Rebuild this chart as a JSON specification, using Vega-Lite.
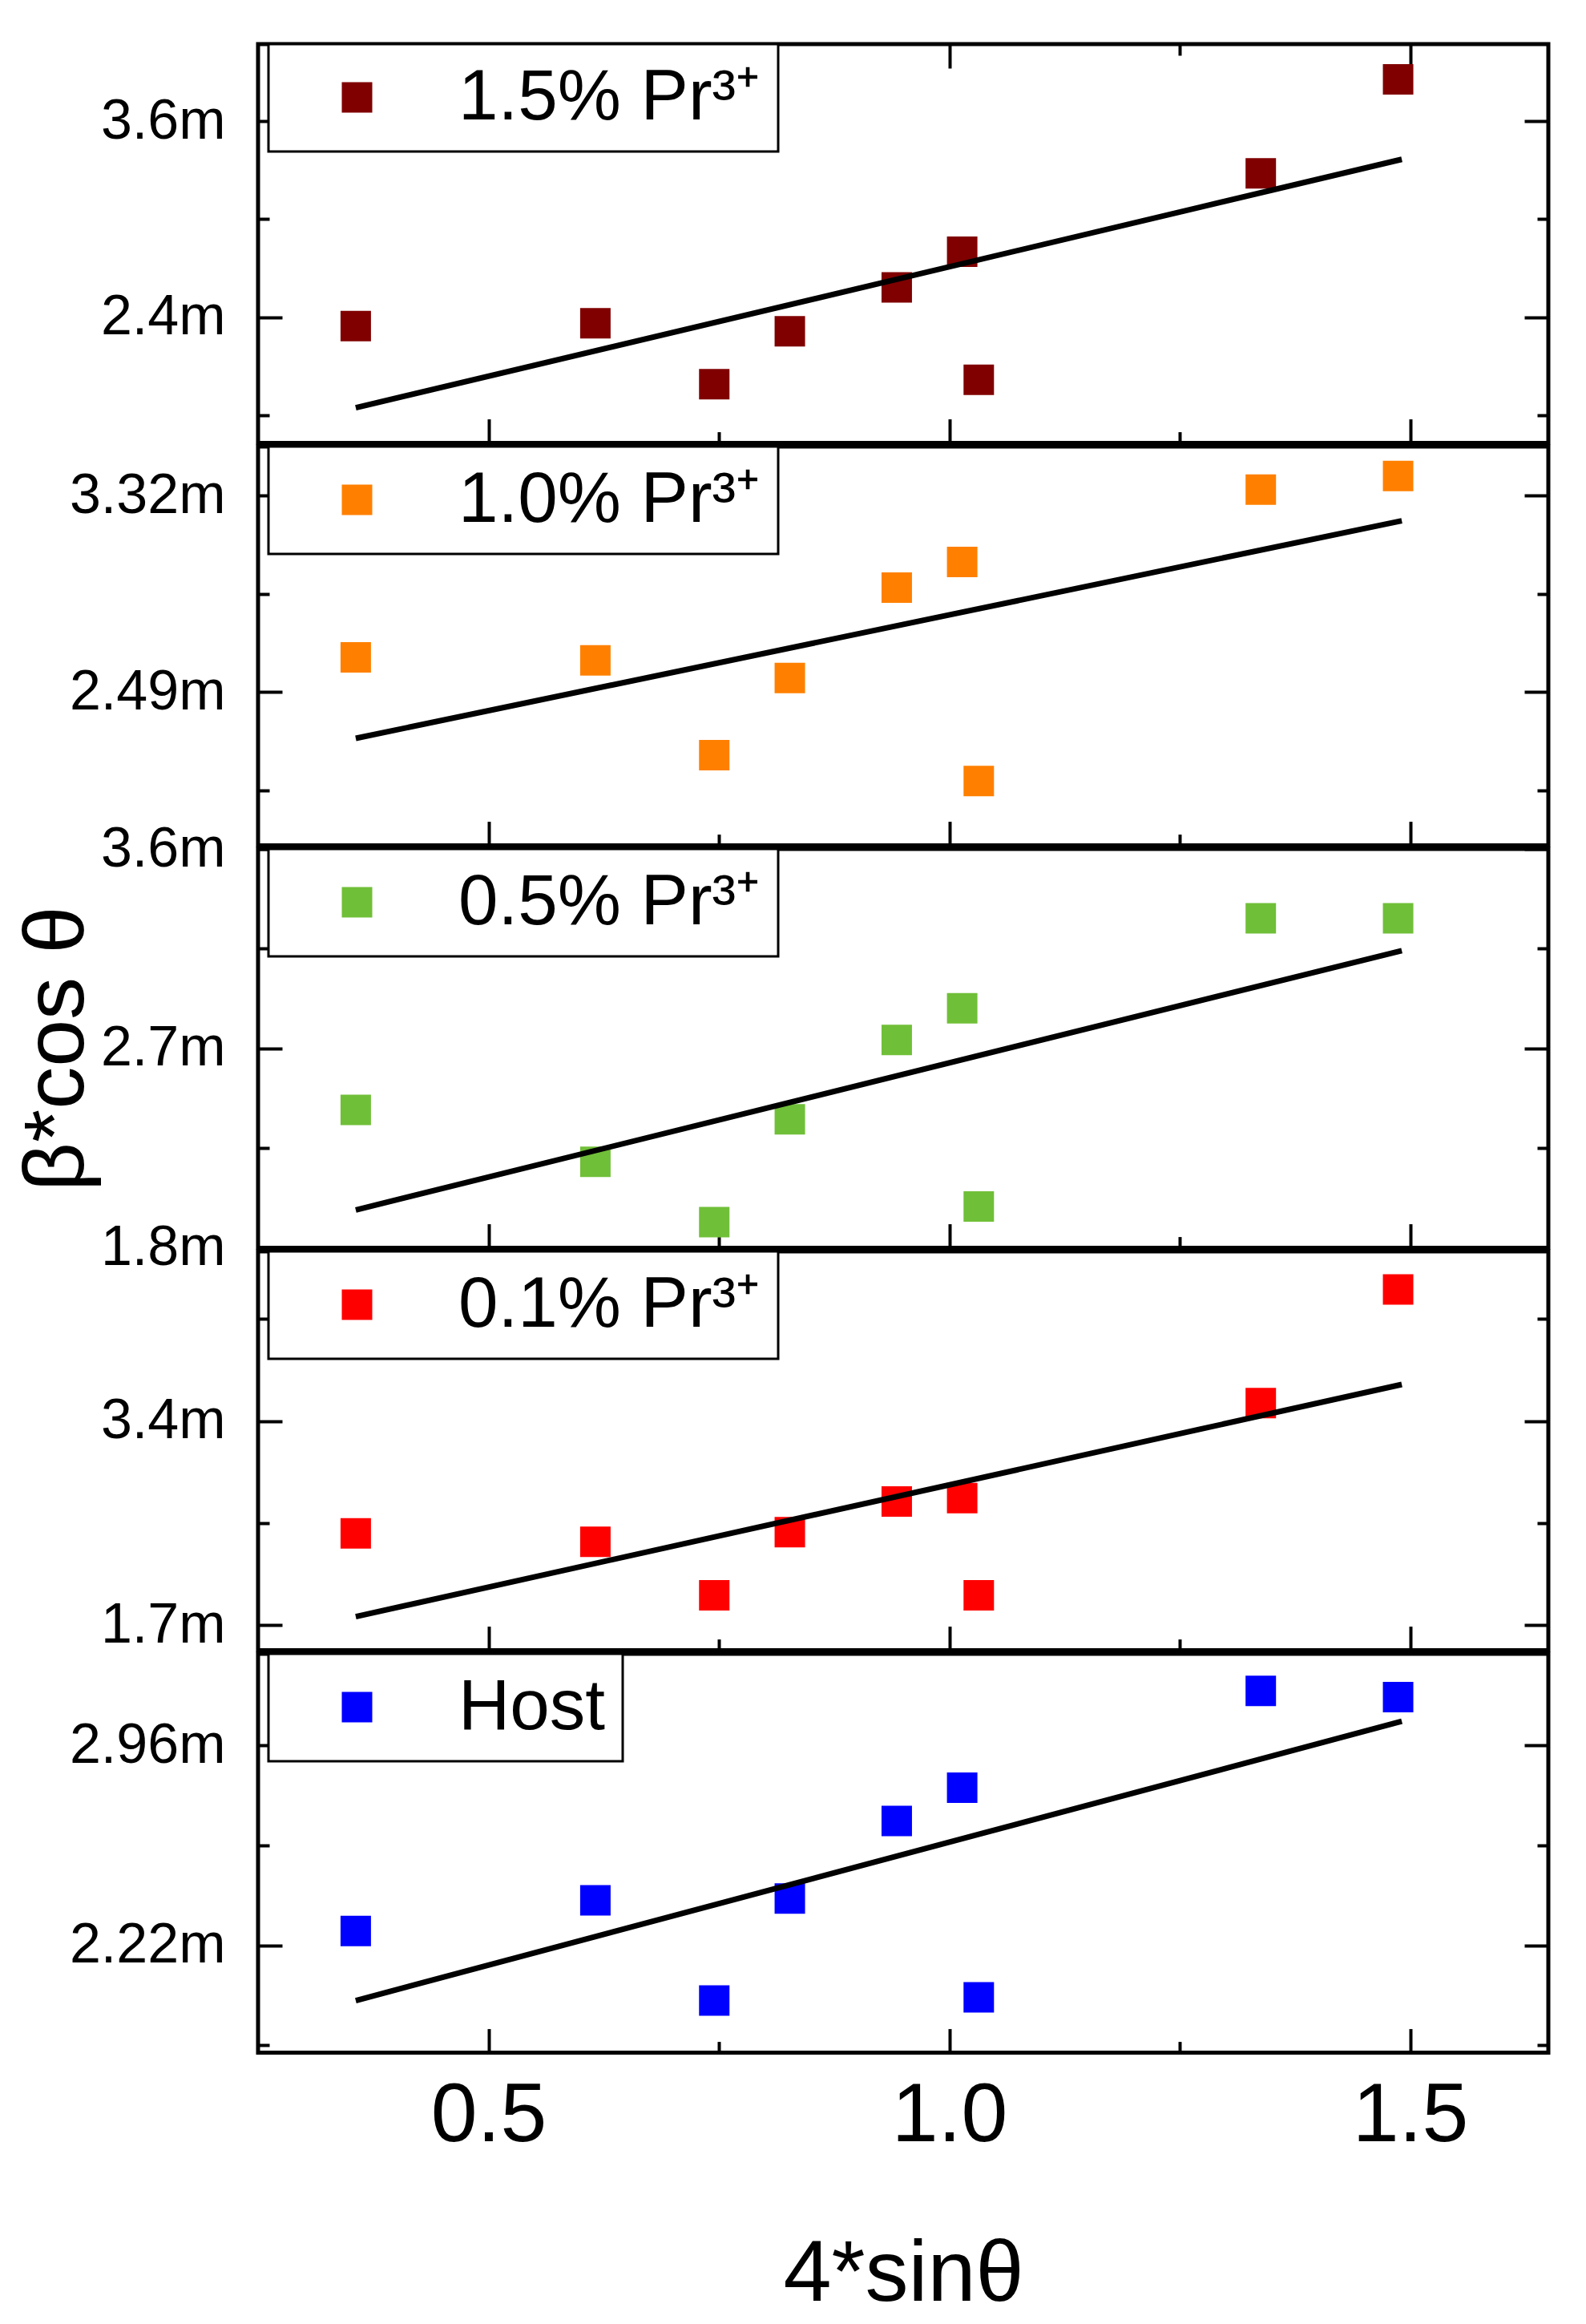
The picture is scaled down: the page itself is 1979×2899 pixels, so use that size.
{
  "$schema": "https://vega.github.io/schema/vega-lite/v6.json",
  "background": "white",
  "padding": {"left": 15, "top": 50, "right": 0, "bottom": 0},
  "spacing": 4,
  "bounds": "flush",
  "config": {
    "font": "Liberation Sans",
    "view": {"stroke": "black", "strokeWidth": 5},
    "axis": {
      "domain": false,
      "grid": false,
      "ticks": true,
      "tickColor": "black",
      "tickWidth": 4,
      "labelColor": "black",
      "labelFont": "Liberation Sans",
      "labelLimit": 1000,
      "titleColor": "black",
      "titleFont": "Liberation Sans",
      "titleFontWeight": "normal"
    },
    "axisY": {"labelFontSize": 70, "labelPadding": 71},
    "legend": {"strokeWidth": 3}
  },
  "resolve": {
    "scale": {"color": "independent", "x": "independent", "y": "independent"},
    "legend": {"color": "independent"}
  },
  "datasets": {
    "points": [
      {"panel": 1, "sample": "1.5% Pr³⁺", "x": 0.356, "y": 0.002345},
      {"panel": 1, "sample": "1.5% Pr³⁺", "x": 0.616, "y": 0.002362},
      {"panel": 1, "sample": "1.5% Pr³⁺", "x": 0.745, "y": 0.001989},
      {"panel": 1, "sample": "1.5% Pr³⁺", "x": 0.827, "y": 0.002314},
      {"panel": 1, "sample": "1.5% Pr³⁺", "x": 0.943, "y": 0.002582},
      {"panel": 1, "sample": "1.5% Pr³⁺", "x": 1.014, "y": 0.002801},
      {"panel": 1, "sample": "1.5% Pr³⁺", "x": 1.032, "y": 0.002016},
      {"panel": 1, "sample": "1.5% Pr³⁺", "x": 1.338, "y": 0.003281},
      {"panel": 1, "sample": "1.5% Pr³⁺", "x": 1.487, "y": 0.003857},
      {"panel": 2, "sample": "1.0% Pr³⁺", "x": 0.356, "y": 0.002636},
      {"panel": 2, "sample": "1.0% Pr³⁺", "x": 0.616, "y": 0.002624},
      {"panel": 2, "sample": "1.0% Pr³⁺", "x": 0.745, "y": 0.002223},
      {"panel": 2, "sample": "1.0% Pr³⁺", "x": 0.827, "y": 0.002549},
      {"panel": 2, "sample": "1.0% Pr³⁺", "x": 0.943, "y": 0.002931},
      {"panel": 2, "sample": "1.0% Pr³⁺", "x": 1.014, "y": 0.00304},
      {"panel": 2, "sample": "1.0% Pr³⁺", "x": 1.032, "y": 0.002113},
      {"panel": 2, "sample": "1.0% Pr³⁺", "x": 1.338, "y": 0.003346},
      {"panel": 2, "sample": "1.0% Pr³⁺", "x": 1.487, "y": 0.003403},
      {"panel": 3, "sample": "0.5% Pr³⁺", "x": 0.356, "y": 0.002423},
      {"panel": 3, "sample": "0.5% Pr³⁺", "x": 0.616, "y": 0.002188},
      {"panel": 3, "sample": "0.5% Pr³⁺", "x": 0.745, "y": 0.001916},
      {"panel": 3, "sample": "0.5% Pr³⁺", "x": 0.827, "y": 0.00238},
      {"panel": 3, "sample": "0.5% Pr³⁺", "x": 0.943, "y": 0.002738},
      {"panel": 3, "sample": "0.5% Pr³⁺", "x": 1.014, "y": 0.002881},
      {"panel": 3, "sample": "0.5% Pr³⁺", "x": 1.032, "y": 0.001987},
      {"panel": 3, "sample": "0.5% Pr³⁺", "x": 1.338, "y": 0.003287},
      {"panel": 3, "sample": "0.5% Pr³⁺", "x": 1.487, "y": 0.003287},
      {"panel": 4, "sample": "0.1% Pr³⁺", "x": 0.356, "y": 0.002463},
      {"panel": 4, "sample": "0.1% Pr³⁺", "x": 0.616, "y": 0.002393},
      {"panel": 4, "sample": "0.1% Pr³⁺", "x": 0.745, "y": 0.001948},
      {"panel": 4, "sample": "0.1% Pr³⁺", "x": 0.827, "y": 0.002473},
      {"panel": 4, "sample": "0.1% Pr³⁺", "x": 0.943, "y": 0.00273},
      {"panel": 4, "sample": "0.1% Pr³⁺", "x": 1.014, "y": 0.002758},
      {"panel": 4, "sample": "0.1% Pr³⁺", "x": 1.032, "y": 0.001948},
      {"panel": 4, "sample": "0.1% Pr³⁺", "x": 1.338, "y": 0.00355},
      {"panel": 4, "sample": "0.1% Pr³⁺", "x": 1.487, "y": 0.004496},
      {"panel": 5, "sample": "Host", "x": 0.356, "y": 0.002273},
      {"panel": 5, "sample": "Host", "x": 0.616, "y": 0.002386},
      {"panel": 5, "sample": "Host", "x": 0.745, "y": 0.002015},
      {"panel": 5, "sample": "Host", "x": 0.827, "y": 0.002393},
      {"panel": 5, "sample": "Host", "x": 0.943, "y": 0.00268},
      {"panel": 5, "sample": "Host", "x": 1.014, "y": 0.002803},
      {"panel": 5, "sample": "Host", "x": 1.032, "y": 0.002027},
      {"panel": 5, "sample": "Host", "x": 1.338, "y": 0.003162},
      {"panel": 5, "sample": "Host", "x": 1.487, "y": 0.003139}
    ],
    "fits": [
      {"panel": 1, "x": 0.356, "y": 0.001845},
      {"panel": 1, "x": 1.491, "y": 0.003367},
      {"panel": 2, "x": 0.356, "y": 0.002294},
      {"panel": 2, "x": 1.491, "y": 0.003214},
      {"panel": 3, "x": 0.356, "y": 0.001971},
      {"panel": 3, "x": 1.491, "y": 0.003141},
      {"panel": 4, "x": 0.356, "y": 0.00177},
      {"panel": 4, "x": 1.491, "y": 0.003705},
      {"panel": 5, "x": 0.356, "y": 0.002015},
      {"panel": 5, "x": 1.491, "y": 0.003049}
    ]
  },
  "vconcat": [
    {
      "width": 1610,
      "height": 497.6,
      "resolve": {"axis": {"x": "independent", "y": "independent"}},
      "layer": [
        {
          "data": {"name": "points"},
          "transform": [{"filter": "datum.panel == 1"}],
          "mark": {"type": "point", "shape": "square", "filled": true, "size": 1444, "opacity": 1},
          "encoding": {
            "x": {
              "field": "x", "type": "quantitative",
              "scale": {"domain": [0.25, 1.65], "nice": false, "zero": false},
              "axis": {"orient": "bottom", "values": [0.5, 0.75, 1, 1.25, 1.5], "labels": false, "title": null,
                "tickSize": {"condition": {"test": "indexof([0.5,1,1.5], datum.value) >= 0", "value": -30}, "value": -14}}
            },
            "y": {
              "field": "y", "type": "quantitative",
              "scale": {"domain": [0.001629, 0.004073], "nice": false, "zero": false},
              "axis": {"orient": "left", "values": [0.0018, 0.0024, 0.003, 0.0036], "title": null,
                "labelExpr": "indexof([0.0024,0.0036], datum.value) >= 0 ? format(datum.value, '~s') : ''",
                "tickSize": {"condition": {"test": "indexof([0.0024,0.0036], datum.value) >= 0", "value": -30}, "value": -14}}
            },
            "color": {
              "field": "sample", "type": "nominal",
              "scale": {"range": ["#800000"]},
              "legend": {"title": null, "orient": "none", "legendX": 13, "legendY": 0, "strokeColor": "black", "fillColor": "white",
                "padding": 22, "symbolType": "square", "symbolSize": 1444, "symbolStrokeWidth": 0, "symbolOpacity": 1,
                "symbolOffset": 44, "labelOffset": 82, "labelFontSize": 89, "labelColor": "black", "labelLimit": 1500,
                "labelExpr": "datum.label + '\u00a0'"}
            }
          }
        },
        {
          "data": {"name": "fits"},
          "transform": [{"filter": "datum.panel == 1"}],
          "mark": {"type": "line", "color": "black", "strokeWidth": 7},
          "encoding": {
            "x": {
              "field": "x", "type": "quantitative",
              "axis": {"orient": "top", "values": [0.5, 0.75, 1, 1.25, 1.5], "labels": false, "title": null,
                "tickSize": {"condition": {"test": "indexof([0.5,1,1.5], datum.value) >= 0", "value": -30}, "value": -14}}
            },
            "y": {
              "field": "y", "type": "quantitative",
              "axis": {"orient": "right", "values": [0.0018, 0.0024, 0.003, 0.0036], "labels": false, "title": null,
                "tickSize": {"condition": {"test": "indexof([0.0024,0.0036], datum.value) >= 0", "value": -30}, "value": -14}}
            }
          }
        }
      ]
    },
    {
      "width": 1610,
      "height": 497.6,
      "resolve": {"axis": {"x": "independent", "y": "independent"}},
      "layer": [
        {
          "data": {"name": "points"},
          "transform": [{"filter": "datum.panel == 2"}],
          "mark": {"type": "point", "shape": "square", "filled": true, "size": 1444, "opacity": 1},
          "encoding": {
            "x": {
              "field": "x", "type": "quantitative",
              "scale": {"domain": [0.25, 1.65], "nice": false, "zero": false},
              "axis": {"orient": "bottom", "values": [0.5, 0.75, 1, 1.25, 1.5], "labels": false, "title": null,
                "tickSize": {"condition": {"test": "indexof([0.5,1,1.5], datum.value) >= 0", "value": -30}, "value": -14}}
            },
            "y": {
              "field": "y", "type": "quantitative",
              "scale": {"domain": [0.001841, 0.003528], "nice": false, "zero": false},
              "axis": {"orient": "left", "values": [0.002075, 0.00249, 0.002905, 0.00332], "title": null,
                "labelExpr": "indexof([0.00249,0.00332], datum.value) >= 0 ? format(datum.value, '~s') : ''",
                "tickSize": {"condition": {"test": "indexof([0.00249,0.00332], datum.value) >= 0", "value": -30}, "value": -14}}
            },
            "color": {
              "field": "sample", "type": "nominal",
              "scale": {"range": ["#ff8000"]},
              "legend": {"title": null, "orient": "none", "legendX": 13, "legendY": 0, "strokeColor": "black", "fillColor": "white",
                "padding": 22, "symbolType": "square", "symbolSize": 1444, "symbolStrokeWidth": 0, "symbolOpacity": 1,
                "symbolOffset": 44, "labelOffset": 82, "labelFontSize": 89, "labelColor": "black", "labelLimit": 1500,
                "labelExpr": "datum.label + '\u00a0'"}
            }
          }
        },
        {
          "data": {"name": "fits"},
          "transform": [{"filter": "datum.panel == 2"}],
          "mark": {"type": "line", "color": "black", "strokeWidth": 7},
          "encoding": {
            "x": {"field": "x", "type": "quantitative", "axis": null},
            "y": {
              "field": "y", "type": "quantitative",
              "axis": {"orient": "right", "values": [0.002075, 0.00249, 0.002905, 0.00332], "labels": false, "title": null,
                "tickSize": {"condition": {"test": "indexof([0.00249,0.00332], datum.value) >= 0", "value": -30}, "value": -14}}
            }
          }
        }
      ]
    },
    {
      "width": 1610,
      "height": 497.6,
      "resolve": {"axis": {"x": "independent", "y": "independent"}},
      "layer": [
        {
          "data": {"name": "points"},
          "transform": [{"filter": "datum.panel == 3"}],
          "mark": {"type": "point", "shape": "square", "filled": true, "size": 1444, "opacity": 1},
          "encoding": {
            "x": {
              "field": "x", "type": "quantitative",
              "scale": {"domain": [0.25, 1.65], "nice": false, "zero": false},
              "axis": {"orient": "bottom", "values": [0.5, 0.75, 1, 1.25, 1.5], "labels": false, "title": null,
                "tickSize": {"condition": {"test": "indexof([0.5,1,1.5], datum.value) >= 0", "value": -30}, "value": -14}}
            },
            "y": {
              "field": "y", "type": "quantitative",
              "scale": {"domain": [0.0018, 0.0036], "nice": false, "zero": false},
              "axis": {"orient": "left", "values": [0.0018, 0.00225, 0.0027, 0.00315, 0.0036],
                "title": "β*cos θ", "titleFontSize": 106, "titlePadding": 0,
                "labelExpr": "indexof([0.0018,0.0027,0.0036], datum.value) >= 0 ? format(datum.value, '~s') : ''",
                "tickSize": {"condition": {"test": "indexof([0.0018,0.0027,0.0036], datum.value) >= 0", "value": -30}, "value": -14}}
            },
            "color": {
              "field": "sample", "type": "nominal",
              "scale": {"range": ["#70bf38"]},
              "legend": {"title": null, "orient": "none", "legendX": 13, "legendY": 0, "strokeColor": "black", "fillColor": "white",
                "padding": 22, "symbolType": "square", "symbolSize": 1444, "symbolStrokeWidth": 0, "symbolOpacity": 1,
                "symbolOffset": 44, "labelOffset": 82, "labelFontSize": 89, "labelColor": "black", "labelLimit": 1500,
                "labelExpr": "datum.label + '\u00a0'"}
            }
          }
        },
        {
          "data": {"name": "fits"},
          "transform": [{"filter": "datum.panel == 3"}],
          "mark": {"type": "line", "color": "black", "strokeWidth": 7},
          "encoding": {
            "x": {"field": "x", "type": "quantitative", "axis": null},
            "y": {
              "field": "y", "type": "quantitative",
              "axis": {"orient": "right", "values": [0.0018, 0.00225, 0.0027, 0.00315, 0.0036], "labels": false, "title": null,
                "tickSize": {"condition": {"test": "indexof([0.0018,0.0027,0.0036], datum.value) >= 0", "value": -30}, "value": -14}}
            }
          }
        }
      ]
    },
    {
      "width": 1610,
      "height": 497.6,
      "resolve": {"axis": {"x": "independent", "y": "independent"}},
      "layer": [
        {
          "data": {"name": "points"},
          "transform": [{"filter": "datum.panel == 4"}],
          "mark": {"type": "point", "shape": "square", "filled": true, "size": 1444, "opacity": 1},
          "encoding": {
            "x": {
              "field": "x", "type": "quantitative",
              "scale": {"domain": [0.25, 1.65], "nice": false, "zero": false},
              "axis": {"orient": "bottom", "values": [0.5, 0.75, 1, 1.25, 1.5], "labels": false, "title": null,
                "tickSize": {"condition": {"test": "indexof([0.5,1,1.5], datum.value) >= 0", "value": -30}, "value": -14}}
            },
            "y": {
              "field": "y", "type": "quantitative",
              "scale": {"domain": [0.001489, 0.004814], "nice": false, "zero": false},
              "axis": {"orient": "left", "values": [0.0017, 0.00255, 0.0034, 0.00425], "title": null,
                "labelExpr": "indexof([0.0017,0.0034], datum.value) >= 0 ? format(datum.value, '~s') : ''",
                "tickSize": {"condition": {"test": "indexof([0.0017,0.0034], datum.value) >= 0", "value": -30}, "value": -14}}
            },
            "color": {
              "field": "sample", "type": "nominal",
              "scale": {"range": ["#ff0000"]},
              "legend": {"title": null, "orient": "none", "legendX": 13, "legendY": 0, "strokeColor": "black", "fillColor": "white",
                "padding": 22, "symbolType": "square", "symbolSize": 1444, "symbolStrokeWidth": 0, "symbolOpacity": 1,
                "symbolOffset": 44, "labelOffset": 82, "labelFontSize": 89, "labelColor": "black", "labelLimit": 1500,
                "labelExpr": "datum.label + '\u00a0'"}
            }
          }
        },
        {
          "data": {"name": "fits"},
          "transform": [{"filter": "datum.panel == 4"}],
          "mark": {"type": "line", "color": "black", "strokeWidth": 7},
          "encoding": {
            "x": {"field": "x", "type": "quantitative", "axis": null},
            "y": {
              "field": "y", "type": "quantitative",
              "axis": {"orient": "right", "values": [0.0017, 0.00255, 0.0034, 0.00425], "labels": false, "title": null,
                "tickSize": {"condition": {"test": "indexof([0.0017,0.0034], datum.value) >= 0", "value": -30}, "value": -14}}
            }
          }
        }
      ]
    },
    {
      "width": 1610,
      "height": 497.6,
      "resolve": {"axis": {"x": "independent", "y": "independent"}},
      "layer": [
        {
          "data": {"name": "points"},
          "transform": [{"filter": "datum.panel == 5"}],
          "mark": {"type": "point", "shape": "square", "filled": true, "size": 1444, "opacity": 1},
          "encoding": {
            "x": {
              "field": "x", "type": "quantitative",
              "scale": {"domain": [0.25, 1.65], "nice": false, "zero": false},
              "axis": {"orient": "bottom", "values": [0.5, 0.75, 1, 1.25, 1.5],
                "labelExpr": "indexof([0.5,1,1.5], datum.value) >= 0 ? format(datum.value, '.1f') : ''",
                "labelFontSize": 104, "labelPadding": 58,
                "title": "4*sinθ", "titleFontSize": 108, "titlePadding": 93,
                "tickSize": {"condition": {"test": "indexof([0.5,1,1.5], datum.value) >= 0", "value": -30}, "value": -14}}
            },
            "y": {
              "field": "y", "type": "quantitative",
              "scale": {"domain": [0.001822, 0.003299], "nice": false, "zero": false},
              "axis": {"orient": "left", "values": [0.00185, 0.00222, 0.00259, 0.00296], "title": null,
                "labelExpr": "indexof([0.00222,0.00296], datum.value) >= 0 ? format(datum.value, '~s') : ''",
                "tickSize": {"condition": {"test": "indexof([0.00222,0.00296], datum.value) >= 0", "value": -30}, "value": -14}}
            },
            "color": {
              "field": "sample", "type": "nominal",
              "scale": {"range": ["#0000ff"]},
              "legend": {"title": null, "orient": "none", "legendX": 13, "legendY": 0, "strokeColor": "black", "fillColor": "white",
                "padding": 22, "symbolType": "square", "symbolSize": 1444, "symbolStrokeWidth": 0, "symbolOpacity": 1,
                "symbolOffset": 44, "labelOffset": 82, "labelFontSize": 89, "labelColor": "black", "labelLimit": 1500,
                "labelExpr": "datum.label + '\u00a0'"}
            }
          }
        },
        {
          "data": {"name": "fits"},
          "transform": [{"filter": "datum.panel == 5"}],
          "mark": {"type": "line", "color": "black", "strokeWidth": 7},
          "encoding": {
            "x": {"field": "x", "type": "quantitative", "axis": null},
            "y": {
              "field": "y", "type": "quantitative",
              "axis": {"orient": "right", "values": [0.00185, 0.00222, 0.00259, 0.00296], "labels": false, "title": null,
                "tickSize": {"condition": {"test": "indexof([0.00222,0.00296], datum.value) >= 0", "value": -30}, "value": -14}}
            }
          }
        }
      ]
    }
  ]
}
